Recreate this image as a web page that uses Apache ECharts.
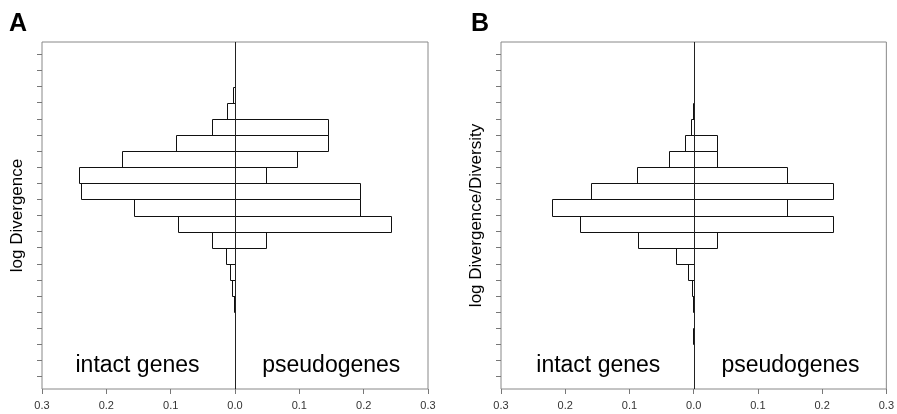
<!DOCTYPE html>
<html><head><meta charset="utf-8">
<script src="https://cdn.jsdelivr.net/npm/echarts@6/dist/echarts.min.js"></script>
<style>html,body{margin:0;padding:0;background:#fff}#c{width:897px;height:414px}</style>
</head><body><div id="c"></div>
<script>
// Histogram bins indexed from the bottom tick: bin k spans [k, k+1]
const xTicks = [-0.3, -0.2, -0.1, 0, 0.1, 0.2, 0.3];
const yTicks = [0,1,2,3,4,5,6,7,8,9,10,11,12,13,14,15,16,17,18,19,20];
// Panel A: log Divergence (fractions)
const intactA = [0,0,0,0,0.0015,0.004,0.0083,0.0135,0.035,0.088,0.157,0.239,0.243,0.175,0.091,0.036,0.013,0.003,0,0];
const pseudoA = [0,0,0,0,0,0,0,0,0.0487,0.243,0.194,0.194,0.0487,0.097,0.145,0.145,0,0,0,0];
// Panel B: log Divergence/Diversity (fractions)
const intactB = [0,0,0.0015,0,0.0015,0.003,0.0088,0.0274,0.0864,0.1765,0.22,0.1594,0.089,0.0378,0.0135,0.004,0.0015,0,0,0];
const pseudoB = [0,0,0,0,0,0,0,0,0.0362,0.2174,0.145,0.2174,0.145,0.0362,0.0362,0,0,0,0,0];
const panelTitles = ['A', 'B'];
const yNames = ['log Divergence', 'log Divergence/Diversity'];
const sideLabels = ['intact genes', 'pseudogenes'];

const FONT = 'Liberation Sans, Arial, Helvetica, sans-serif';

function toData(arr, sign) {
  const out = [];
  arr.forEach((v, k) => { if (v > 0) out.push([sign * v, k]); });
  return out;
}
const px = v => Math.round(v) + 0.5;
function renderBar(params, api) {
  const v = api.value(0), k = api.value(1);
  const p1 = api.coord([v, k + 1]);
  const p0 = api.coord([0, k]);
  let x0 = px(Math.min(p0[0], p1[0]));
  let x1 = px(Math.max(p0[0], p1[0]));
  if (x1 - x0 < 1) { if (v < 0) x0 = x1 - 1; else x1 = x0 + 1; }
  const y0 = px(p1[1]);
  const y1 = px(p0[1]);
  return {
    type: 'rect',
    shape: { x: x0, y: y0, width: x1 - x0, height: y1 - y0 },
    style: { fill: 'none', stroke: '#111', lineWidth: 1 }
  };
}
function renderZeroLine(params, api) {
  const cs = params.coordSys;
  const x = px(api.coord([api.value(0), 0])[0]);
  return {
    type: 'line', z2: 10,
    shape: { x1: x, y1: cs.y, x2: x, y2: cs.y + cs.height },
    style: { stroke: '#222', lineWidth: 1 }
  };
}

const grids = [
  { left: 42, top: 42, width: 386, height: 347 },
  { left: 501, top: 42, width: 386, height: 347 }
];

const xAxes = grids.map((g, i) => ({
  type: 'value', gridIndex: i, min: -0.3, max: 0.3, position: 'bottom',
  axisLine: { show: false, onZero: false }, splitLine: { show: false },
  axisTick: { show: true, length: 5, customValues: xTicks, lineStyle: { color: '#777' } },
  axisLabel: { customValues: xTicks, formatter: v => Math.abs(v).toFixed(1),
    fontSize: 11, color: '#333', margin: 11, fontFamily: FONT }
}));
const yAxes = grids.map((g, i) => ({
  type: 'value', gridIndex: i, min: -0.76, max: 20.76, position: 'left',
  axisLine: { show: false, onZero: false }, splitLine: { show: false },
  axisTick: { show: true, length: 5, customValues: yTicks, lineStyle: { color: '#777' } },
  axisLabel: { show: false, customValues: yTicks },
  name: yNames[i], nameLocation: 'middle', nameGap: 16, nameRotate: 90,
  nameTextStyle: { fontSize: 17, color: '#000', fontFamily: FONT }
}));

function bars(arr, sign, gi) {
  return {
    type: 'custom', xAxisIndex: gi, yAxisIndex: gi,
    renderItem: renderBar, data: toData(arr, sign),
    encode: { x: 0, y: 1 }, silent: true
  };
}
function zeroLine(gi) {
  return {
    type: 'custom', xAxisIndex: gi, yAxisIndex: gi, z: 3,
    renderItem: renderZeroLine, data: [[0, 0]],
    encode: { x: 0, y: 1 }, silent: true
  };
}

const graphic = [];
graphic.push({ type: 'text', left: 9, top: 12, style: { text: panelTitles[0], font: 'bold 25px ' + FONT, fill: '#000' } });
graphic.push({ type: 'text', left: 471, top: 12, style: { text: panelTitles[1], font: 'bold 25px ' + FONT, fill: '#000' } });
const labelPos = [[137.5, 331.3], [598.3, 790.5]];
labelPos.forEach(p => {
  graphic.push({ type: 'text', x: p[0], y: 366, style: { text: sideLabels[0], font: '23px ' + FONT, fill: '#000', align: 'center', verticalAlign: 'middle' } });
  graphic.push({ type: 'text', x: p[1], y: 366, style: { text: sideLabels[1], font: '23px ' + FONT, fill: '#000', align: 'center', verticalAlign: 'middle' } });
});

const chart = echarts.init(document.getElementById('c'), null, { renderer: 'canvas' });
chart.setOption({
  animation: false,
  backgroundColor: '#fff',
  grid: grids.map(g => Object.assign({ show: true, borderColor: '#888', borderWidth: 1, backgroundColor: 'transparent' }, g)),
  xAxis: xAxes,
  yAxis: yAxes,
  series: [
    bars(intactA, -1, 0),
    bars(pseudoA, 1, 0),
    zeroLine(0),
    bars(intactB, -1, 1),
    bars(pseudoB, 1, 1),
    zeroLine(1)
  ],
  graphic: graphic
});
</script></body></html>
